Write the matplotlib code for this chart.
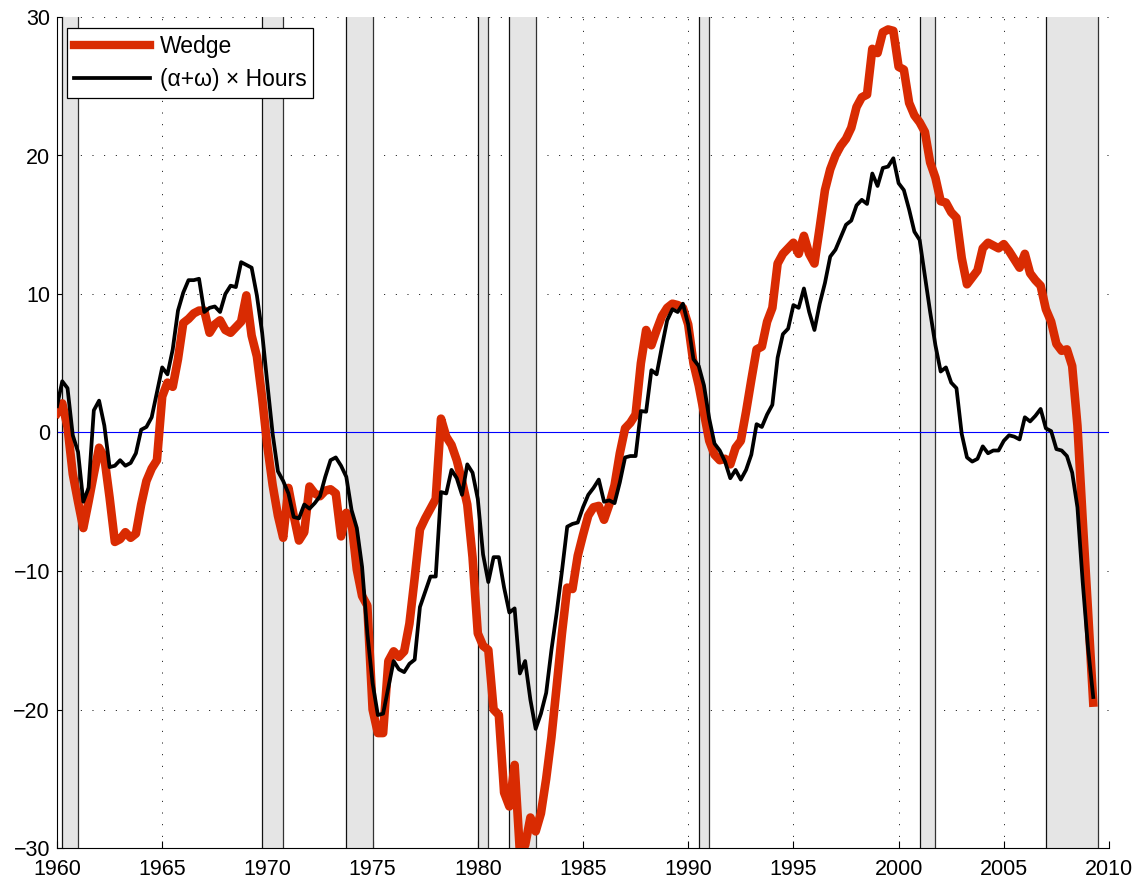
import numpy as np
import matplotlib
matplotlib.use("Agg")
import matplotlib.pyplot as plt
from matplotlib.lines import Line2D

# ---- data (quarterly, 1960Q1 .. 2009Q2) ----
start_year = 1960.0
wedge = [
    1.4, 2.1, 0.4, -3.0,        # 1960
    -5.0, -6.9, -5.0, -3.0,     # 1961
    -1.1, -1.8, -4.7, -7.9,     # 1962
    -7.7, -7.2, -7.6, -7.3,     # 1963
    -5.2, -3.5, -2.6, -2.0,     # 1964
    2.6, 3.6, 3.3, 5.3,         # 1965
    7.9, 8.2, 8.6, 8.8,         # 1966
    8.8, 7.2, 7.8, 8.1,         # 1967
    7.4, 7.2, 7.6, 8.0,         # 1968
    9.9, 7.0, 5.5, 2.5,         # 1969
    -1.0, -3.8, -6.0, -7.6,     # 1970
    -4.0, -6.0, -7.8, -7.2,     # 1971
    -3.9, -4.4, -4.6, -4.2,     # 1972
    -4.1, -4.4, -7.5, -5.8,     # 1973
    -6.5, -9.9, -11.8, -12.5,   # 1974
    -20.0, -21.7, -21.7, -16.5, # 1975
    -15.8, -16.2, -15.8, -13.8, # 1976
    -10.5, -7.0, -6.2, -5.5,    # 1977
    -4.8, 1.0, -0.3, -0.9,      # 1978
    -2.0, -3.5, -5.2, -9.0,     # 1979
    -14.5, -15.4, -15.7, -20.0, # 1980
    -20.4, -26.0, -27.0, -24.0, # 1981
    -30.3, -29.8, -27.8, -28.8, # 1982
    -27.5, -25.0, -22.0, -18.3, # 1983
    -14.5, -11.2, -11.3, -8.9,  # 1984
    -7.4, -6.0, -5.4, -5.3,     # 1985
    -6.3, -5.2, -3.8, -1.5,     # 1986
    0.3, 0.7, 1.3, 5.0,         # 1987
    7.4, 6.3, 7.4, 8.4,         # 1988
    9.0, 9.3, 9.2, 9.0,         # 1989
    7.8, 5.0, 3.4, 1.4,         # 1990
    -0.6, -1.6, -2.0, -1.9,     # 1991
    -2.3, -1.1, -0.6, 1.5,      # 1992
    3.8, 6.0, 6.2, 8.0,         # 1993
    9.0, 12.2, 12.9, 13.3,      # 1994
    13.7, 12.9, 14.2, 12.9,     # 1995
    12.2, 14.8, 17.5, 19.0,     # 1996
    20.0, 20.7, 21.2, 22.0,     # 1997
    23.5, 24.2, 24.4, 27.7,     # 1998
    27.4, 28.9, 29.1, 29.0,     # 1999
    26.4, 26.2, 23.8, 22.9,     # 2000
    22.4, 21.7, 19.5, 18.4,     # 2001
    16.7, 16.6, 15.9, 15.5,     # 2002
    12.6, 10.7, 11.2, 11.7,     # 2003
    13.3, 13.7, 13.5, 13.3,     # 2004
    13.6, 13.1, 12.5, 11.9,     # 2005
    12.9, 11.5, 11.0, 10.6,     # 2006
    8.9, 8.0, 6.4, 5.9,         # 2007
    6.0, 4.8, 0.5, -6.3,        # 2008
    -12.8, -19.5,               # 2009
]
hours = [
    1.9, 3.7, 3.2, -0.2,        # 1960
    -1.4, -5.0, -4.0, 1.6,      # 1961
    2.3, 0.5, -2.5, -2.4,       # 1962
    -2.0, -2.4, -2.2, -1.5,     # 1963
    0.2, 0.4, 1.1, 2.9,         # 1964
    4.7, 4.2, 6.0, 8.8,         # 1965
    10.1, 11.0, 11.0, 11.1,     # 1966
    8.7, 9.0, 9.1, 8.7,         # 1967
    10.0, 10.6, 10.5, 12.3,     # 1968
    12.1, 11.9, 9.9, 7.2,       # 1969
    3.5, -0.1, -2.8, -3.5,      # 1970
    -4.4, -6.1, -6.2, -5.2,     # 1971
    -5.5, -5.1, -4.6, -3.2,     # 1972
    -2.0, -1.8, -2.4, -3.2,     # 1973
    -5.6, -6.9, -9.7, -14.5,    # 1974
    -18.1, -20.4, -20.3, -18.4, # 1975
    -16.5, -17.1, -17.3, -16.7, # 1976
    -16.4, -12.6, -11.5, -10.4, # 1977
    -10.4, -4.3, -4.4, -2.7,    # 1978
    -3.3, -4.5, -2.3, -2.9,     # 1979
    -4.8, -8.8, -10.8, -9.0,    # 1980
    -9.0, -11.2, -13.0, -12.7,  # 1981
    -17.4, -16.5, -19.3, -21.4, # 1982
    -20.3, -18.8, -15.7, -13.0, # 1983
    -10.0, -6.8, -6.6, -6.5,    # 1984
    -5.4, -4.5, -4.0, -3.4,     # 1985
    -5.0, -4.9, -5.1, -3.6,     # 1986
    -1.8, -1.7, -1.7, 1.55,     # 1987
    1.5, 4.5, 4.2, 6.2,         # 1988
    8.1, 8.9, 8.7, 9.3,         # 1989
    7.8, 5.3, 4.8, 3.4,         # 1990
    1.0, -0.8, -1.3, -2.1,      # 1991
    -3.3, -2.7, -3.4, -2.7,     # 1992
    -1.6, 0.6, 0.4, 1.3,        # 1993
    2.0, 5.4, 7.1, 7.5,         # 1994
    9.2, 9.0, 10.4, 8.7,        # 1995
    7.4, 9.3, 10.8, 12.7,       # 1996
    13.2, 14.1, 15.0, 15.3,     # 1997
    16.4, 16.8, 16.5, 18.7,     # 1998
    17.8, 19.1, 19.2, 19.8,     # 1999
    18.0, 17.5, 16.1, 14.5,     # 2000
    13.9, 11.3, 8.7, 6.3,       # 2001
    4.4, 4.7, 3.6, 3.2,         # 2002
    -0.1, -1.8, -2.1, -1.9,     # 2003
    -1.0, -1.5, -1.3, -1.3,     # 2004
    -0.6, -0.2, -0.3, -0.5,     # 2005
    1.1, 0.8, 1.2, 1.7,         # 2006
    0.3, 0.1, -1.2, -1.3,       # 2007
    -1.7, -2.9, -5.4, -10.8,    # 2008
    -15.5, -19.1,               # 2009
]
recession_starts = [1960.25, 1969.75, 1973.75, 1980.0, 1981.5, 1990.5, 2001.0, 2007.0]
recession_ends = [1961.0, 1970.75, 1975.0, 1980.5, 1982.75, 1991.0, 2001.75, 2009.5]
x_ticks = [1960, 1965, 1970, 1975, 1980, 1985, 1990, 1995, 2000, 2005, 2010]
y_ticks = [-30, -20, -10, 0, 10, 20, 30]
labels = ["Wedge", "(\u03b1+\u03c9) \u00d7 Hours"]

t = start_year + 0.25 * np.arange(len(wedge))
t_h = start_year + 0.25 * np.arange(len(hours))

plt.rcParams['font.family'] = ['Liberation Sans', 'DejaVu Sans']

fig = plt.figure(figsize=(11.43, 8.83), dpi=100)
ax = fig.add_axes([57/1143, 1 - 848/883, (1109-57)/1143, (848-17)/883])

RED = '#d92b02'

for s, e in zip(recession_starts, recession_ends):
    ax.axvspan(s, e, facecolor='#e5e5e5', edgecolor='none', zorder=1)
    ax.axvline(s, color='#111111', lw=0.9, zorder=1.5)
    ax.axvline(e, color='#333333', lw=0.9, zorder=1.5)

ax.axhline(0, color='#0000ff', lw=0.8, zorder=2)
ax.plot(t, wedge, color=RED, lw=6.2, solid_joinstyle='round', zorder=3)
ax.plot(t_h, hours, color='black', lw=2.7, zorder=4)

ax.set_xlim(1960, 2010)
ax.set_ylim(-30, 30)
ax.set_xticks(x_ticks)
ax.set_yticks(y_ticks)
ax.set_yticklabels([f"\u2212{abs(v)}" if v < 0 else str(v) for v in y_ticks])

ax.grid(True, linestyle=(0, (1, 11)), color='black', lw=0.7, zorder=0)
ax.set_axisbelow(True)

for side in ['top', 'right']:
    ax.spines[side].set_visible(False)
for side in ['left', 'bottom']:
    ax.spines[side].set_linewidth(0.8)

ax.tick_params(axis='both', direction='in', length=5, width=0.8, labelsize=15.5)
ax.tick_params(axis='x', pad=8)
ax.tick_params(axis='y', pad=5)

handles = [Line2D([], [], color=RED, lw=6.0), Line2D([], [], color='black', lw=2.7)]
leg = ax.legend(handles, labels, loc='upper left',
                bbox_to_anchor=(10/1052, 1 - 11/831), borderaxespad=0,
                fontsize=16.5, handlelength=3.3, handletextpad=0.45,
                borderpad=0.3, labelspacing=0.45, fancybox=False,
                framealpha=1, edgecolor='black')
leg.get_frame().set_linewidth(0.9)
leg.set_zorder(10)

fig.savefig('out.png', dpi=100)
